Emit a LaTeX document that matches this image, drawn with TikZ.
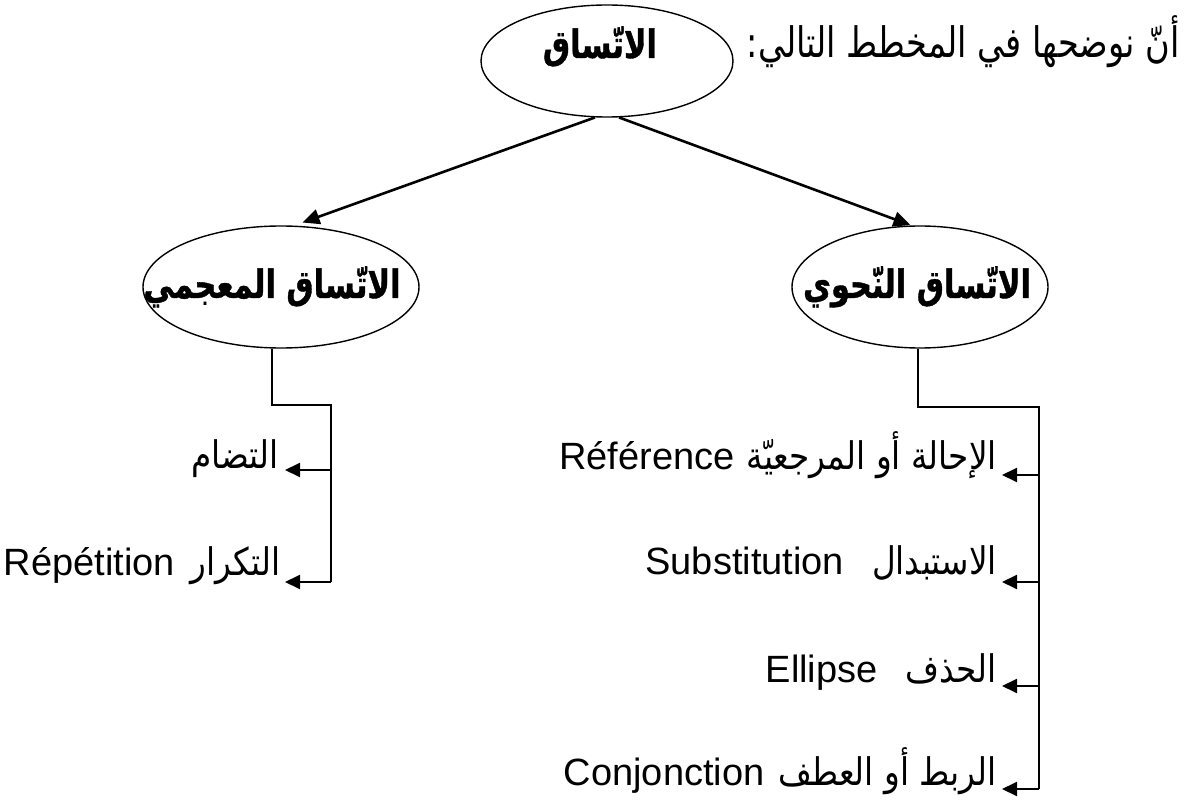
\documentclass[tikz,border=0pt]{standalone}
\usepackage{fontspec}
\setmainfont{Liberation Sans}
\newfontfamily\arabicfont[Script=Arabic, FakeStretch=0.86]{DejaVu Sans}
\newfontfamily\arabicintro[Script=Arabic, FakeStretch=0.8]{DejaVu Sans}
\newfontfamily\arabicbold[Script=Arabic, FakeStretch=0.78, FakeBold=1]{DejaVu Sans Bold}
\TeXXeTstate=1
\usetikzlibrary{arrows.meta,shapes.geometric}
\newcommand\artext[1]{{\arabicfont #1}}
\newcommand\lat[1]{\beginL #1\endL{}}

\begin{document}
\begin{tikzpicture}[x=1pt,y=-1pt,
  oval/.style={draw, ellipse, line width=1.4pt, inner sep=0pt},
  heading/.style={font=\arabicbold\fontsize{39}{42}\selectfont, inner sep=0pt, anchor=base},
  item/.style={font=\fontsize{38}{42}\selectfont, inner sep=0pt, anchor=base east},
  intro/.style={font=\arabicintro\fontsize{42}{46}\selectfont, inner sep=0pt, anchor=base east},
  down/.style={line width=2.6pt, -{Triangle[length=17pt,width=15pt]}},
  tree/.style={line width=2pt},
  branch/.style={line width=2pt, -{Triangle[length=15pt,width=14pt]}}
]
\useasboundingbox (0,0) rectangle (1184,802);

% introductory sentence
\node[intro] (intro) at (1180,58) {\beginR أنّ نوضحها في المخطط التالي:\endR};

% the three concept ovals
\node[oval, minimum width=252pt, minimum height=112pt] (top) at (607,61) {};
\node[heading] (topname) at (600,58) {\beginR الاتّساق\endR};

\node[oval, minimum width=276pt, minimum height=122pt] (lex) at (281,287) {};
\node[heading] (lexname) at (272,298) {\beginR الاتّساق المعجمي\endR};

\node[oval, minimum width=256pt, minimum height=122pt] (gram) at (920,287) {};
\node[heading] (gramname) at (917,298) {\beginR الاتّساق النّحوي\endR};

% main split
\draw[down, shorten >=9pt] (top.258) -- (lex.78);
\draw[down, shorten >=1pt] (top.282) -- (gram.98);

% lexical cohesion items
\node[item] (l1) at (279,468) {\beginR\artext{التضام}\endR};
\node[item] (l2) at (281,575) {\beginR\artext{التكرار}\hspace{16pt}\lat{Répétition}\endR};

\coordinate (ljoin) at (331,405);
\coordinate (lb1) at (331,470);
\coordinate (lb2) at (331,582);
\draw[tree] (lex.262) |- (ljoin) -- (lb2);
\draw[branch] (lb1) -- ([xshift=6pt]lb1 -| l1.east);
\draw[branch] (lb2) -- ([xshift=4pt]lb2 -| l2.east);

% grammatical cohesion items
\node[item] (r1) at (997,469) {\beginR\artext{الإحالة أو المرجعيّة}\hspace{12pt}\lat{Référence}\endR};
\node[item] (r2) at (997,574) {\beginR\artext{الاستبدال}\hspace{28pt}\lat{Substitution}\endR};
\node[item] (r3) at (997,682) {\beginR\artext{الحذف}\hspace{28pt}\lat{Ellipse}\endR};
\node[item] (r4) at (997,785) {\beginR\artext{الربط أو العطف}\hspace{14pt}\lat{Conjonction}\endR};

\coordinate (rjoin) at (1039,407);
\coordinate (rb1) at (1039,475);
\coordinate (rb2) at (1039,582);
\coordinate (rb3) at (1039,686);
\coordinate (rb4) at (1039,789);
\draw[tree] (gram.268) |- (rjoin) -- (rb4);
\draw[branch] (rb1) -- ([xshift=5pt]rb1 -| r1.east);
\draw[branch] (rb2) -- ([xshift=5pt]rb2 -| r2.east);
\draw[branch] (rb3) -- ([xshift=5pt]rb3 -| r3.east);
\draw[branch] (rb4) -- ([xshift=5pt]rb4 -| r4.east);
\end{tikzpicture}
\end{document}
